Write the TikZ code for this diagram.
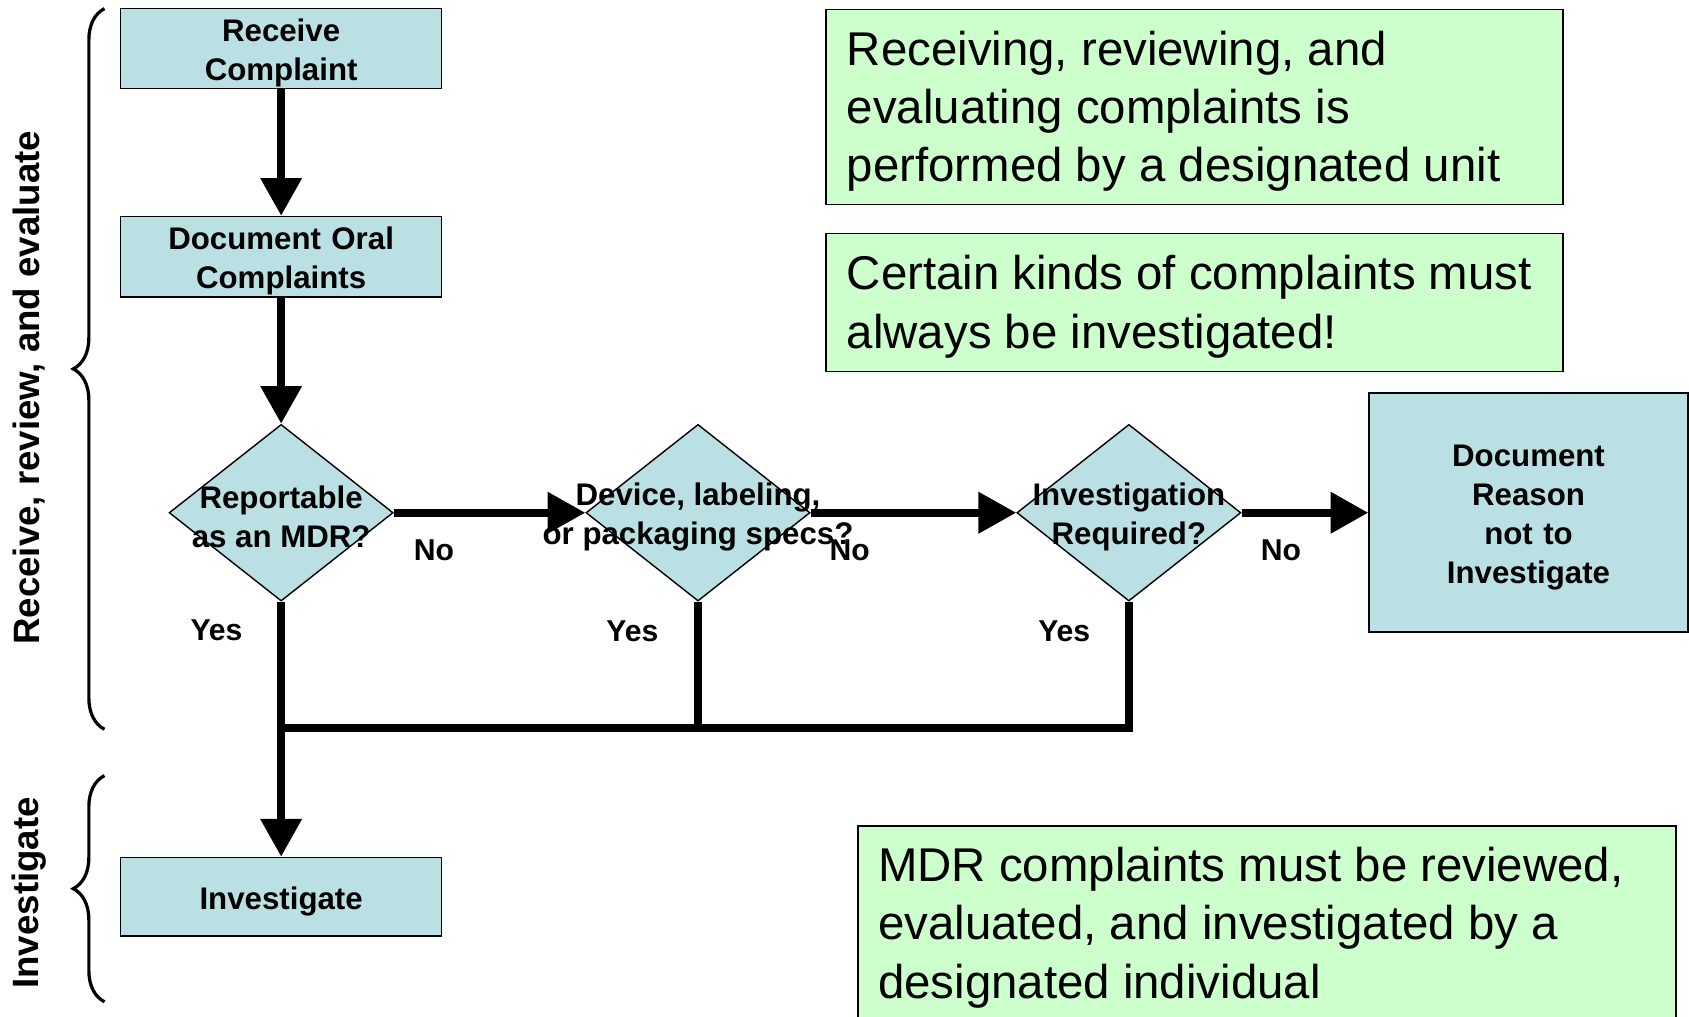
\documentclass[tikz,border=0pt]{standalone}
\usepackage{tikz}
\usetikzlibrary{arrows.meta,decorations.pathreplacing,shapes.geometric}
\usepackage{xcolor}
\usepackage{fontspec}
\setmainfont{Liberation Sans}
\definecolor{boxblue}{RGB}{187,224,227}
\definecolor{notegreen}{RGB}{204,255,204}

\begin{document}
\begin{tikzpicture}[x=1pt,y=-1pt]
\tikzstyle{block} = [rectangle, draw=black, line width=1.5pt, fill=boxblue,
text width=280pt, align=center, minimum width=298pt, minimum height=74pt,
inner sep=0pt, text height=29pt, font=\fontsize{29}{36}\selectfont\bfseries]
\tikzstyle{decision} = [diamond, draw=black, line width=1.3pt, fill=boxblue,
minimum width=208pt, minimum height=164pt, inner sep=0pt]
\tikzstyle{dtext} = [align=center, yshift=-4pt, font=\fontsize{29}{36}\selectfont\bfseries]
\tikzstyle{note} = [rectangle, draw=black, line width=1.5pt, fill=notegreen,
anchor=north west, minimum width=684pt, minimum height=181pt]
\tikzstyle{notetext} = [anchor=west, align=left, inner sep=0pt, yshift=-4pt,
font=\fontsize{44}{54}\selectfont]
\tikzstyle{answer} = [font=\fontsize{28}{34}\selectfont\bfseries]
\tikzstyle{phase} = [rotate=90, font=\fontsize{34}{40}\selectfont\bfseries]
\tikzstyle{line} = [draw, line width=7pt]
\tikzstyle{arrow} = [line, -{Triangle[width=37pt,length=35pt]}]
\tikzstyle{brace} = [draw, line width=3pt, decorate, decoration={brace, amplitude=29pt}]

\useasboundingbox (0,0) rectangle (1568,944);
\clip (0,0) rectangle (1568,944);

% column 1
\node [block] (receive) at (261,45) {Receive\\Complaint};
\node [block, minimum height=75pt] (oral) at (261,238.5) {Document Oral\\Complaints};
\node [decision] (mdr) at (261,476) {};
\node [dtext] (mdrtext) at (mdr) {Reportable\\as an MDR?};
\node [block, minimum height=73pt] (inv) at (261,832.5) {Investigate};
% row of decisions
\node [decision] (spec) at (648,476) {};
\node [dtext] (spectext) at (spec) {Device, labeling,\\or packaging specs?};
\node [decision] (req) at (1048,476) {};
\node [dtext] (reqtext) at (req) {Investigation\\Required?};
\node [block, minimum width=296pt, minimum height=222pt] (reason) at (1419,476)
{Document\\Reason\\not to\\Investigate};
\coordinate (merge) at (261,676);

% notes
\node [note] (unit) at (766,8) {};
\node [notetext] (unittext) at ([xshift=20pt]unit.west)
{Receiving, reviewing, and\\evaluating complaints is\\performed by a designated unit};
\node [note, minimum height=128pt] (always) at (766,216) {};
\node [notetext] (alwaystext) at ([xshift=20pt]always.west)
{Certain kinds of complaints must\\always be investigated!};
\node [note, minimum width=759pt] (individual) at (796,766) {};
\node [notetext] (individualtext) at ([xshift=19pt]individual.west)
{MDR complaints must be reviewed,\\evaluated, and investigated by a\\designated individual};

% phases
\draw [brace] (97,677) -- (97,8);
\draw [brace] (97,930) -- (97,720);
\node [phase] (review) at (27,360) {Receive, review, and evaluate};
\node [phase] (investigate) at (27,829) {Investigate};

\path [arrow] (receive) -- (oral);
\path [arrow] (oral) -- (mdr);
\path [arrow] (mdr) -- node [answer, pos=0.21, yshift=-35pt] {No} (spec);
\path [arrow] (spec) -- node [answer, pos=0.19, yshift=-35pt] {No} (req);
\path [arrow] (req) -- node [answer, pos=0.31, yshift=-35pt] {No} (reason);
\path [arrow] (mdr) -- node [answer, pos=0.113, xshift=-60pt] {Yes} (inv);
\path [line] (spec) |- node [answer, pos=0.115, xshift=-61pt] {Yes} (merge);
\path [line] (req) |- node [answer, pos=0.115, xshift=-60pt] {Yes} (merge);

\end{tikzpicture}
\end{document}
